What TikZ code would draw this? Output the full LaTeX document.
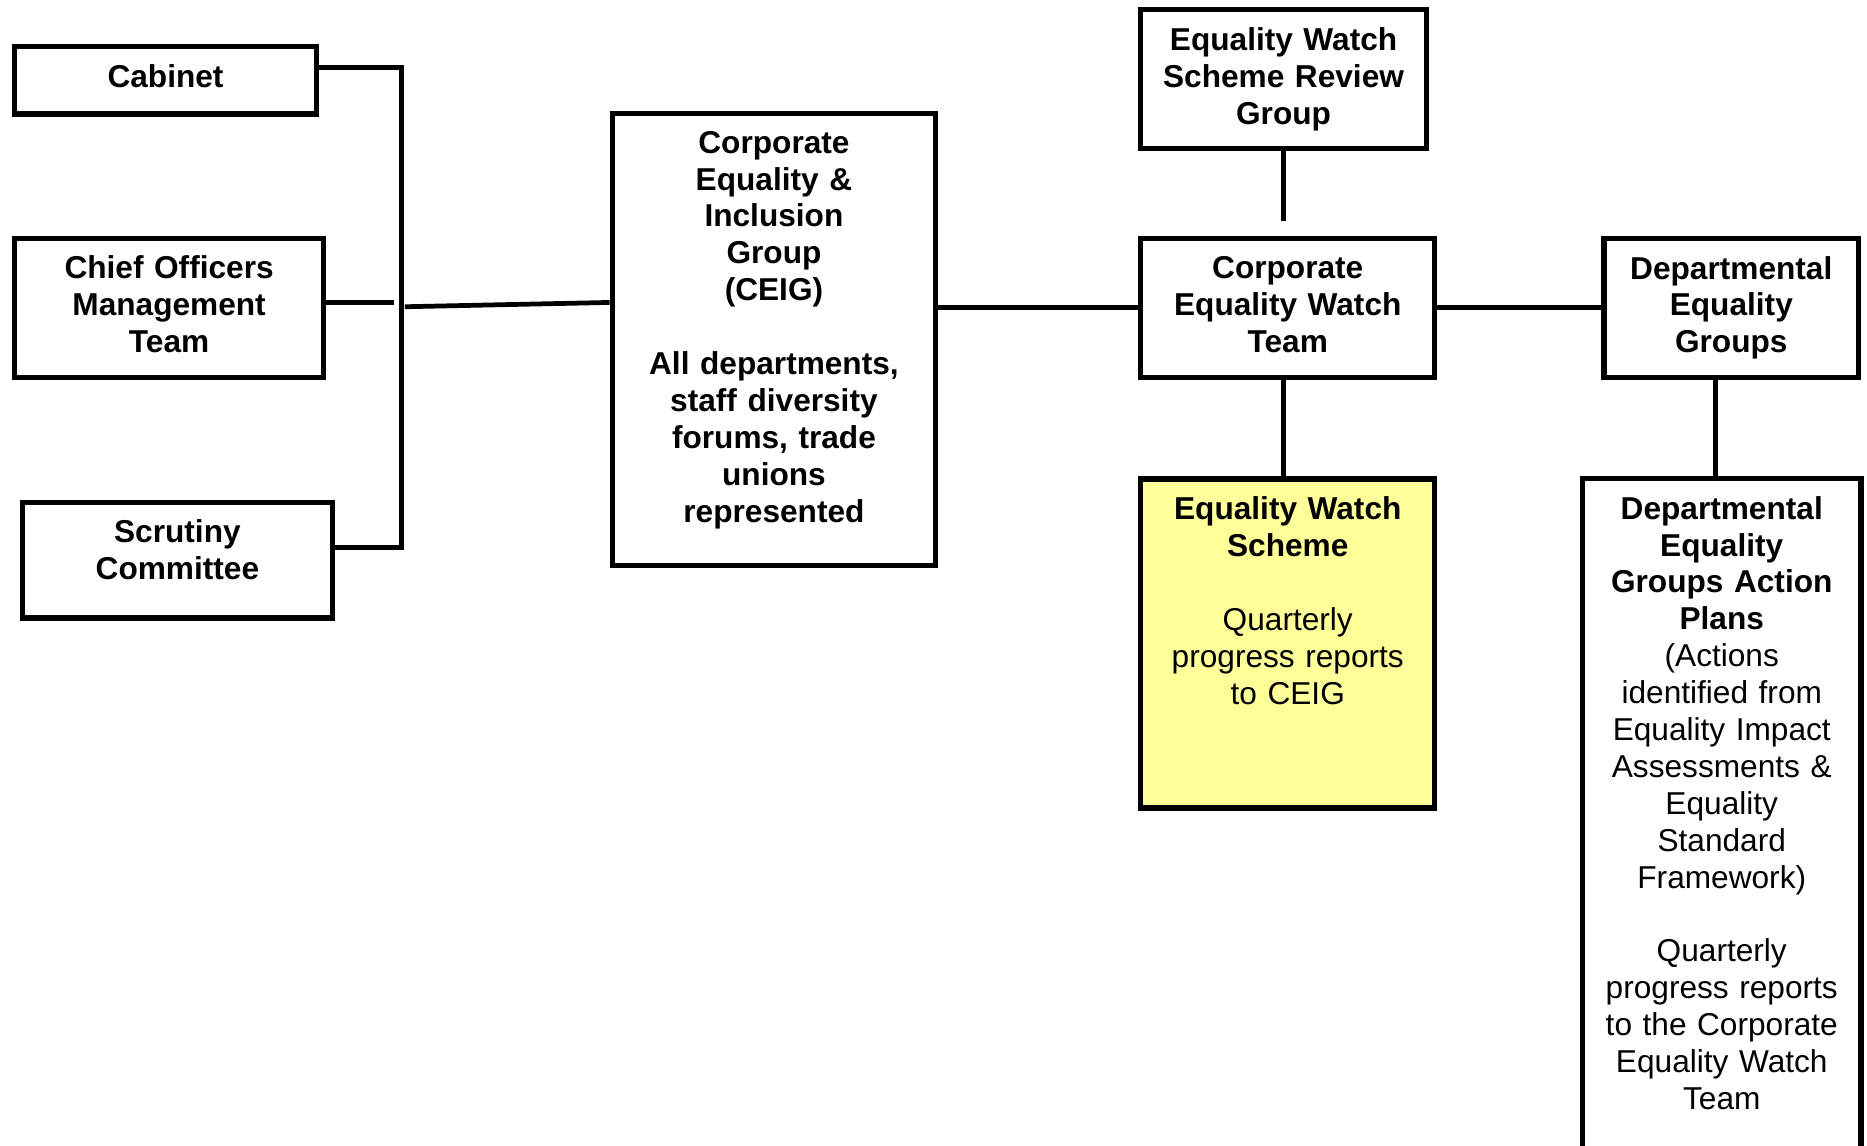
\documentclass[tikz,border=0pt]{standalone}
\usepackage{fontspec}
\setmainfont{Liberation Sans}
\usetikzlibrary{positioning,calc}

\definecolor{schemeyellow}{RGB}{255,255,153}
\newcommand{\orgfont}{\fontsize{18}{21}\selectfont}

\tikzset{
  orgbox/.style={draw=black, line width=3pt, inner sep=0pt, align=center},
  boxtext/.style={inner sep=0pt, align=center, anchor=north},
  link/.style={line width=2.7pt, line join=miter}
}

\begin{document}
\begin{tikzpicture}
    \clip (0,0) rectangle (37.34,-22.92);
    \fill[white] (0,0) rectangle (37.34,-22.92);

    \node[orgbox, minimum width=6.04cm, minimum height=1.35cm, text width=6.04cm, text depth=5pt, font=\orgfont\bfseries] (cab) at (3.310,-1.607) {Cabinet};
    \node[orgbox, minimum width=6.19cm, minimum height=2.78cm, text width=6.19cm, text depth=46pt, font=\orgfont\bfseries] (coi) at (3.382,-6.156) {Chief Officers\\Management\\Team};
    \node[orgbox, minimum width=6.19cm, minimum height=2.31cm, text width=6.19cm, text depth=33pt, font=\orgfont\bfseries] (scr) at (3.548,-11.205) {Scrutiny\\Committee};

    \node[orgbox, minimum width=6.47cm, minimum height=9.04cm] (ceig) at (15.479,-6.787) {};
    \node[boxtext, text width=6.2cm, font=\orgfont\bfseries] (ceigtext) at ([yshift=-0.40cm]ceig.north) {Corporate\\Equality \&\\Inclusion\\Group\\(CEIG)\\[21pt]All departments,\\staff diversity\\forums, trade\\unions\\represented};

    \node[orgbox, minimum width=5.71cm, minimum height=2.78cm, text width=5.7cm, font=\orgfont\bfseries] (ewsrg) at (25.671,-1.584) {Equality Watch\\Scheme Review\\Group};
    \node[orgbox, minimum width=5.88cm, minimum height=2.78cm, text width=5.8cm, text depth=46pt, font=\orgfont\bfseries] (cewt) at (25.755,-6.156) {Corporate\\Equality Watch\\Team};
    \node[orgbox, minimum width=5.09cm, minimum height=2.78cm, text width=5.09cm, font=\orgfont\bfseries] (deg) at (34.626,-6.156) {Departmental\\Equality\\Groups};

    \node[orgbox, fill=schemeyellow, minimum width=5.88cm, minimum height=6.58cm] (ews) at (25.755,-12.872) {};
    \node[boxtext, text width=5.7cm, font=\orgfont] (ewstext) at ([yshift=-0.40cm]ews.north) {\textbf{Equality Watch}\\\textbf{Scheme}\\[21pt]Quarterly\\progress reports\\to CEIG};

    \node[orgbox, minimum width=5.57cm, minimum height=14cm] (degap) at (34.435,-16.57) {};
    \node[boxtext, text width=5.5cm, font=\orgfont] (degaptext) at ([yshift=-0.40cm]degap.north) {\textbf{Departmental}\\\textbf{Equality}\\\textbf{Groups Action}\\\textbf{Plans}\\(Actions\\identified from\\Equality Impact\\Assessments \&\\Equality\\Standard\\Framework)\\[21pt]Quarterly\\progress reports\\to the Corporate\\Equality Watch\\Team};

    \coordinate (bustop) at (8.025,-1.357);
    \coordinate (busbot) at (8.025,-10.954);
    \coordinate (coiend) at (7.882,-6.049);
    \coordinate (busout) at (8.097,-6.135);
    \coordinate (revend) at (25.671,-4.429);

    \draw[link] (cab.east |- bustop) -- (bustop) -- (busbot) -- (scr.east |- busbot);
    \draw[link] (coi.east |- coiend) -- (coiend);
    \draw[link] (busout) -- ([yshift=0.738cm]ceig.west);
    \draw[link] (ceig.east |- cewt.west) -- (cewt.west);
    \draw[link] (ewsrg.south) -- (revend);
    \draw[link] (cewt.south -| ewsrg.south) -- (ews.north -| ewsrg.south);
    \draw[link] (cewt.east) -- (deg.west);
    \draw[link] ([xshift=-0.12cm]degap.north |- deg.south) -- ([xshift=-0.12cm]degap.north);
\end{tikzpicture}
\end{document}
